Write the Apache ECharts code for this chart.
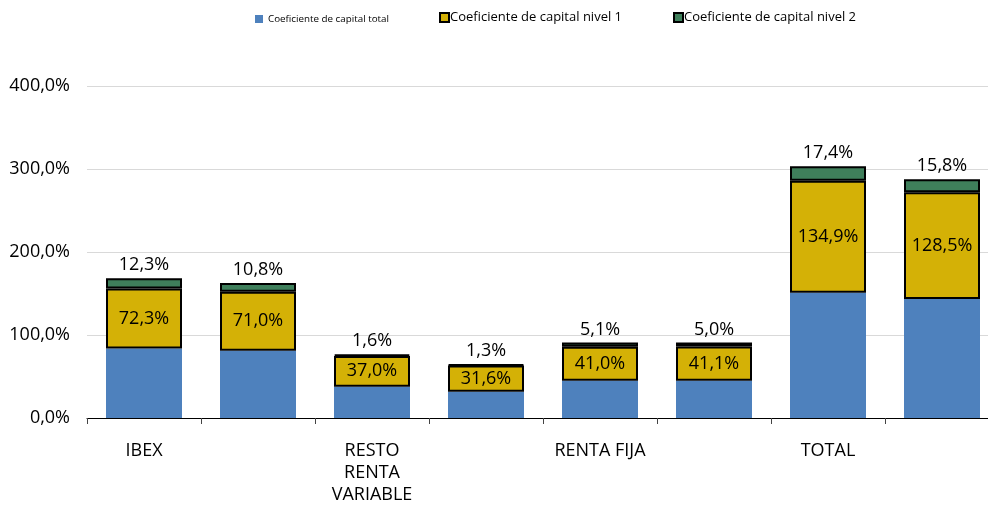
<!DOCTYPE html>
<html>
<head>
<meta charset="utf-8">
<script src="https://cdn.jsdelivr.net/npm/echarts@6/dist/echarts.min.js"></script>
<style>
  html, body { margin: 0; padding: 0; background: #fff; overflow: hidden; }
  /* plot runs past the right edge in the original, so the canvas is a bit wider than the window */
  #chart { width: 1000px; height: 508px; }
</style>
</head>
<body>
<div id="chart"></div>
<script>
const categories = ['IBEX', '', 'RESTO\nRENTA\nVARIABLE', '', 'RENTA FIJA', '', 'TOTAL', '']
const capitalTotal = [83.7, 81.0, 37.7, 31.7, 44.9, 45.0, 151.0, 143.4]
const capitalNivel1 = [72.3, 71.0, 37.0, 31.6, 41.0, 41.1, 134.9, 128.5]
const capitalNivel2 = [12.3, 10.8, 1.6, 1.3, 5.1, 5.0, 17.4, 15.8]
const yTicks = [0, 100, 200, 300, 400]

const FONT = '"Open Sans", sans-serif'
const fmtPct = (v) => v.toFixed(1).replace('.', ',') + '%'

const chart = echarts.init(document.getElementById('chart'))

chart.setOption({
  backgroundColor: '#fff',
  animation: false,
  textStyle: { fontFamily: FONT },
  legend: [
    {
      left: 250, top: 9,
      itemWidth: 8, itemHeight: 8, itemGap: 2,
      icon: 'rect',
      data: [{ name: 'Coeficiente de capital total', textStyle: { fontSize: 9.8, color: '#000' } }],
      selectedMode: false
    },
    {
      left: 434, top: 6,
      itemWidth: 9, itemHeight: 9,
      icon: 'rect',
      data: [{ name: 'Coeficiente de capital nivel 1', textStyle: { fontSize: 13, color: '#000' } }],
      textStyle: { padding: [0, 0, 0, -4] },
      selectedMode: false
    },
    {
      left: 668, top: 6,
      itemWidth: 9, itemHeight: 9,
      icon: 'rect',
      data: [{ name: 'Coeficiente de capital nivel 2', textStyle: { fontSize: 13, color: '#000' } }],
      textStyle: { padding: [0, 0, 0, -4] },
      selectedMode: false
    }
  ],
  grid: { left: 87, top: 86, width: 912, height: 332, containLabel: false },
  xAxis: {
    type: 'category',
    data: categories,
    axisLine: { lineStyle: { color: '#000', width: 1 } },
    axisTick: { show: true, alignWithLabel: false, length: 6, inside: false, lineStyle: { color: '#444' } },
    axisLabel: { interval: 0, color: '#000', fontSize: 18, lineHeight: 22, margin: 22 }
  },
  yAxis: {
    type: 'value',
    min: yTicks[0],
    max: yTicks[yTicks.length - 1],
    interval: 100,
    axisLine: { show: false },
    axisTick: { show: false },
    splitLine: { lineStyle: { color: '#d9d9d9', width: 1 } },
    axisLabel: { color: '#000', fontSize: 18, margin: 17, formatter: fmtPct }
  },
  series: [
    {
      name: 'Coeficiente de capital total',
      type: 'bar',
      stack: 'total',
      barWidth: 76,
      data: capitalTotal,
      itemStyle: { color: '#4e81bd' }
    },
    {
      name: 'Coeficiente de capital nivel 1',
      type: 'bar',
      stack: 'total',
      barWidth: 76,
      data: capitalNivel1,
      itemStyle: { color: '#d4b106', borderColor: '#000', borderWidth: 2 },
      label: {
        show: true, position: 'inside', color: '#000', fontSize: 18,
        formatter: (p) => fmtPct(p.value)
      }
    },
    {
      name: 'Coeficiente de capital nivel 2',
      type: 'bar',
      stack: 'total',
      barWidth: 76,
      data: capitalNivel2,
      itemStyle: { color: '#3f7f5b', borderColor: '#000', borderWidth: 2 },
      label: {
        show: true, position: 'top', distance: 4, color: '#000', fontSize: 18,
        formatter: (p) => fmtPct(p.value)
      }
    }
  ]
})
</script>
</body>
</html>
